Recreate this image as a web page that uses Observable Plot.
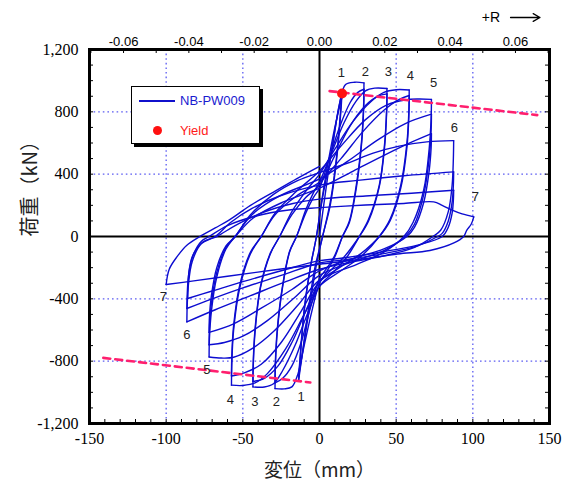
<!DOCTYPE html>
<html><head><meta charset="utf-8">
<script src="https://cdn.jsdelivr.net/npm/d3@7"></script>
<script src="https://cdn.jsdelivr.net/npm/@observablehq/plot@0.6"></script>
<style>
body{margin:0;background:#fff;}
#wrap{position:relative;width:575px;height:490px;}
.legend{position:absolute;left:131px;top:86px;width:127px;height:56px;border:1.5px solid #000;background:#fff;box-shadow:3px 3px 0 #000;font-family:"Liberation Sans",Arial,sans-serif;font-size:13px;}
.legend .ln{position:absolute;left:7px;top:13px;width:36px;height:0;border-top:2px solid #1010cc;}
.legend .t1{position:absolute;left:48px;top:6px;color:#1a1ad0;}
.legend .dot{position:absolute;left:21px;top:39px;width:9px;height:9px;border-radius:50%;background:#ff1010;}
.legend .t2{position:absolute;left:48px;top:36px;color:#ff1a1a;}
</style></head>
<body><div id="wrap"></div>
<script>
// ---- hysteresis data (displacement mm, load kN), one array per amplitude level, split into half-cycles
const level1 = [
  [[0,0],[4,290],[8,560],[11.5,770],[14.5,918]],
  [[14.5,918],[14,840],[11,500],[7,220],[2,0],[-3,-200],[-7,-450],[-10.5,-700],[-13.6,-922]],
  [[-13.6,-922],[-13,-840],[-10,-480],[-6,-200],[-2,0],[1,200],[5,440],[10,700],[14.5,890]],
  [[14.5,890],[14,810],[11,480],[7,200],[2,0],[-2,-180],[-6,-420],[-10,-680],[-13.6,-900]]
];
const level2 = [
  [[-13.6,-900],[-13,-820],[-10,-470],[-6,-200],[-2,0],[2,250],[8,550],[13,850],[17,975],[23,990],[29,986]],
  [[29,986],[28.8,850],[27.5,620],[24,330],[19.5,100],[15,0],[10,-130],[5,-220],[0,-300],[-5,-480],[-10,-700],[-14,-880],[-18,-965],[-23,-978],[-29,-976]],
  [[-29,-976],[-28.8,-840],[-27.5,-610],[-24,-320],[-19.5,-100],[-15,0],[-9,150],[-4,250],[0,310],[6,490],[13,700],[20,860],[25,925],[29,945]],
  [[29,945],[28.8,820],[27.5,600],[24,310],[19.5,90],[15,0],[10,-120],[5,-200],[0,-270],[-6,-460],[-12,-680],[-18,-830],[-24,-910],[-29,-940]]
];
const level3 = [
  [[-29,-940],[-28.8,-810],[-27.5,-590],[-24,-310],[-19.5,-95],[-15,0],[-9,170],[-4,280],[0,350],[8,540],[16,730],[24,870],[30,935],[36,952],[44,950]],
  [[44,950],[43.8,820],[42.5,600],[39,330],[32,110],[26,0],[18,-130],[9,-230],[0,-320],[-8,-500],[-16,-700],[-24,-860],[-30,-945],[-36,-966],[-43.4,-965]],
  [[-43.4,-965],[-43.2,-830],[-42,-610],[-38.5,-330],[-32,-110],[-26,0],[-18,140],[-9,250],[0,330],[10,520],[20,710],[30,840],[38,900],[44,915]],
  [[44,915],[43.8,800],[42.5,580],[39,320],[32,100],[26,0],[17,-120],[8,-210],[0,-290],[-9,-480],[-18,-680],[-27,-830],[-36,-910],[-43.4,-930]]
];
const level4 = [
  [[-43.4,-930],[-43.2,-800],[-42,-590],[-38.5,-320],[-32,-105],[-26,0],[-18,160],[-9,290],[0,400],[10,560],[22,740],[34,870],[42,925],[50,942],[58.5,940]],
  [[58.5,940],[58.3,810],[57,600],[53,330],[46,110],[39,0],[28,-120],[14,-220],[0,-320],[-10,-500],[-22,-720],[-34,-880],[-42,-940],[-50,-956],[-57.4,-954]],
  [[-57.4,-954],[-57.2,-820],[-56,-600],[-52,-330],[-45,-110],[-38,0],[-29,140],[-15,260],[0,350],[14,500],[28,670],[42,810],[52,880],[58.5,905]],
  [[58.5,905],[58.3,780],[57,570],[53,310],[46,100],[39,0],[27,-110],[13,-200],[0,-290],[-12,-480],[-25,-680],[-38,-820],[-49,-875],[-57.4,-895]]
];
const level5 = [
  [[-57.4,-895],[-57.2,-770],[-56,-570],[-52,-310],[-45,-100],[-38,0],[-29,150],[-15,290],[0,420],[14,580],[30,750],[44,845],[56,876],[64,882],[73,880]],
  [[73,880],[72.8,760],[71.5,560],[68,300],[61,90],[55,0],[42,-100],[24,-180],[0,-280],[-14,-440],[-30,-610],[-44,-720],[-56,-775],[-64,-780],[-72,-773]],
  [[-72,-773],[-71.8,-660],[-70.5,-480],[-67,-260],[-61,-80],[-55,0],[-44,140],[-26,260],[0,370],[18,480],[38,620],[56,725],[73,785]],
  [[73,785],[72.8,680],[71.5,500],[68,270],[62,80],[56,0],[42,-90],[22,-160],[0,-250],[-16,-390],[-34,-540],[-50,-640],[-62,-680],[-72,-695]],
  [[-72,-695],[-71.8,-590],[-70.5,-430],[-67,-230],[-61,-70],[-55,0],[-43,120],[-24,220],[0,310],[22,420],[44,530],[60,605],[73,660]],
  [[73,660],[72.8,570],[71.5,420],[68,220],[62,60],[57,0],[42,-80],[22,-140],[0,-220],[-18,-340],[-38,-460],[-56,-560],[-72,-615]]
];
const level6 = [
  [[-72,-615],[-71.8,-520],[-70.5,-380],[-67,-200],[-61,-60],[-55,0],[-45,140],[-30,270],[-14,360],[0,410],[18,470],[35,535],[52,580],[70,607],[87.5,615]],
  [[87.5,615],[87.3,500],[86.5,330],[84,160],[79,40],[74,0],[62,-70],[44,-120],[20,-165],[0,-210],[-22,-290],[-45,-380],[-68,-470],[-86.5,-548]],
  [[-86.5,-548],[-86.3,-450],[-85.5,-310],[-83,-160],[-77,-45],[-68,0],[-58,90],[-44,180],[-26,260],[0,330],[25,360],[55,390],[87.5,415]],
  [[87.5,415],[87.3,330],[86.5,220],[84,100],[80,20],[77,0],[64,-60],[42,-110],[16,-150],[0,-170],[-25,-250],[-50,-330],[-70,-400],[-86.5,-462]],
  [[-86.5,-462],[-86.3,-380],[-85.5,-260],[-83,-130],[-76,-35],[-67,0],[-55,70],[-38,150],[-18,210],[0,240],[30,260],[60,278],[87.5,297]],
  [[87.5,297],[87.3,230],[86.5,150],[84,60],[80,0],[64,-55],[40,-100],[14,-140],[0,-155],[-25,-220],[-50,-290],[-70,-350],[-86,-398]]
];
const level7 = [
  [[-86,-398],[-85.8,-320],[-85,-220],[-82,-110],[-77,-30],[-72,0],[-60,70],[-42,130],[-20,170],[0,185],[30,202],[55,212],[74.5,222],[80,200],[86.5,169],[93,145],[100.6,126]],
  [[100.6,126],[99,80],[96,40],[94,0],[88,-40],[72,-90],[51,-112],[27,-146],[0,-178],[-30,-215],[-60,-255],[-82,-285],[-100,-308]],
  [[-100,-308],[-98,-210],[-93,-131],[-86.5,-56],[-78,0],[-68,55],[-59,105],[-45,200],[-30,285],[-15,370],[0,450]]
];

// yield point and envelope (dashed) lines
const yieldPoint = [[14.7, 918]];
const yieldLinePos = [[6.6, 933], [142, 779]];
const yieldLineNeg = [[-141, -779], [-6, -937]];

// amplitude level labels
const levelNames = ["1","2","3","4","5","6","7"];
const posLabelX = [14.2, 29.9, 44.9, 59.3, 74.5, 88, 101.7];
const posLabelY = [1050, 1056, 1056, 1029, 986, 697, 254];
const negLabelX = [-12, -28.2, -42.1, -58.2, -73.4, -86.5, -101.8];
const negLabelY = [-1029, -1061, -1061, -1046, -854, -633, -388];

// axes
const xTicks = [-150, -100, -50, 0, 50, 100, 150];
const xMinorTicks = d3.range(-140, 150, 10);
const yTicks = [-1200, -800, -400, 0, 400, 800, 1200];
const yMinorTicks = d3.range(-1100, 1200, 100);
const xGrid = [-100, -50, 50, 100];
const yGrid = [-800, -400, 400, 800];
const rLabels = [-0.06, -0.04, -0.02, 0.00, 0.02, 0.04, 0.06];
const rTicks = [-0.07,-0.06,-0.05,-0.04,-0.03,-0.02,-0.01,0,0.01,0.02,0.03,0.04,0.05,0.06,0.07];
const storyHeight = 2130; // mm: R = displacement / height

// ---- build
const W = 575, Hpx = 490, mL = 89, mR = 26, mT = 49, mB = 67;
const pxPerMm = (W - mL - mR) / 300;
const pxPerKN = (Hpx - mT - mB) / 2400;
const tickLenX = 4 / pxPerMm;   // in mm
const tickLenY = 4 / pxPerKN;   // in kN
const loc = d3.formatLocale({decimal: ".", thousands: ",", grouping: [3], currency: ["", ""], minus: "-"});
const fmtInt = loc.format(",");
const fmtR = loc.format(".2f");

const rows = [];
[level1, level2, level3, level4, level5, level6, level7].forEach((lv, i) =>
  lv.forEach((half, j) => half.forEach(([x, y]) => rows.push({x, y, seg: i + "-" + j}))));

const labelsPos = levelNames.map((t, i) => ({t, x: posLabelX[i], y: posLabelY[i]}));
const labelsNeg = levelNames.map((t, i) => ({t, x: negLabelX[i], y: negLabelY[i]}));
const rArrowY = 1200 + 32 / pxPerKN;

const blue = "#0c0cd0";
const gridBlue = "#5c5cf2";
const pink = "#ff1f6e";

const chart = Plot.plot({
  width: W, height: Hpx,
  marginLeft: mL, marginRight: mR, marginTop: mT, marginBottom: mB,
  x: {domain: [-150, 150]},
  y: {domain: [-1200, 1200]},
  style: {fontFamily: "'Liberation Serif', 'Times New Roman', serif", background: "white", overflow: "visible"},
  marks: [
    Plot.ruleX(xGrid, {stroke: gridBlue, strokeDasharray: "1.6,3", strokeWidth: 1.3}),
    Plot.ruleY(yGrid, {stroke: gridBlue, strokeDasharray: "1.6,3", strokeWidth: 1.3}),
    Plot.ruleX([0], {stroke: "black", strokeWidth: 2}),
    Plot.ruleY([0], {stroke: "black", strokeWidth: 2}),
    Plot.line(rows, {x: "x", y: "y", z: "seg", stroke: blue, strokeWidth: 1.4, curve: "catmull-rom"}),
    Plot.line(yieldLinePos, {x: d => d[0], y: d => d[1], stroke: pink, strokeWidth: 2.6, strokeDasharray: "7,5"}),
    Plot.line(yieldLineNeg, {x: d => d[0], y: d => d[1], stroke: pink, strokeWidth: 2.6, strokeDasharray: "7,5"}),
    Plot.dot(yieldPoint, {x: d => d[0], y: d => d[1], r: 5, fill: "#ff1010", stroke: "none"}),
    Plot.text(labelsPos, {x: "x", y: "y", text: "t", fontFamily: "'Liberation Sans', Arial, sans-serif", fontSize: 13, fill: "#222"}),
    Plot.text(labelsNeg, {x: "x", y: "y", text: "t", fontFamily: "'Liberation Sans', Arial, sans-serif", fontSize: 13, fill: "#222"}),
    // inward ticks
    Plot.ruleX(xMinorTicks, {y1: -1200, y2: -1200 + tickLenY, stroke: "black", strokeWidth: 1}),
    Plot.ruleX(rTicks.map(r => r * storyHeight), {y1: 1200, y2: 1200 - tickLenY, stroke: "black", strokeWidth: 1}),
    Plot.ruleY(yMinorTicks, {x1: -150, x2: -150 + tickLenX, stroke: "black", strokeWidth: 1}),
    Plot.ruleY(yMinorTicks, {x1: 150, x2: 150 - tickLenX, stroke: "black", strokeWidth: 1}),
    Plot.frame({stroke: "black", strokeWidth: 3}),
    Plot.axisX(xTicks, {anchor: "bottom", tickSize: 0, tickPadding: 9, fontSize: 16, tickFormat: fmtInt, label: null}),
    Plot.axisY(yTicks, {anchor: "left", tickSize: 0, tickPadding: 11, fontSize: 16, tickFormat: fmtInt, label: null}),
    Plot.text(rLabels, {x: d => d * storyHeight, frameAnchor: "top", dy: -13, text: d => fmtR(d), fontFamily: "'Liberation Sans', Arial, sans-serif", fontSize: 13}),
    Plot.text(["+R"], {x: 0.0525 * storyHeight, y: rArrowY, text: d => d, fontFamily: "'Liberation Sans', Arial, sans-serif", fontSize: 14}),
    Plot.arrow([[0.0585, 0.0675]], {x1: d => d[0] * storyHeight, x2: d => d[1] * storyHeight, y1: rArrowY, y2: rArrowY, stroke: "black", strokeWidth: 1.3, headLength: 9}),
    Plot.text(["荷重（kN）"], {frameAnchor: "left", dx: -59, rotate: -90, text: d => d, fontSize: 20, fontFamily: "'Noto Sans CJK JP', 'Liberation Serif', serif", fill: "#222"}),
    Plot.text(["変位（mm）"], {frameAnchor: "bottom", dy: 53, text: d => d, fontSize: 19, fontFamily: "'Noto Sans CJK JP', 'Liberation Serif', serif", fill: "#222"})
  ]
});
const wrap = document.getElementById("wrap");
wrap.appendChild(chart);
const lg = document.createElement("div");
lg.className = "legend";
lg.innerHTML = '<div class="ln"></div><div class="t1">NB-PW009</div><div class="dot"></div><div class="t2">Yield</div>';
wrap.appendChild(lg);
</script></body></html>
